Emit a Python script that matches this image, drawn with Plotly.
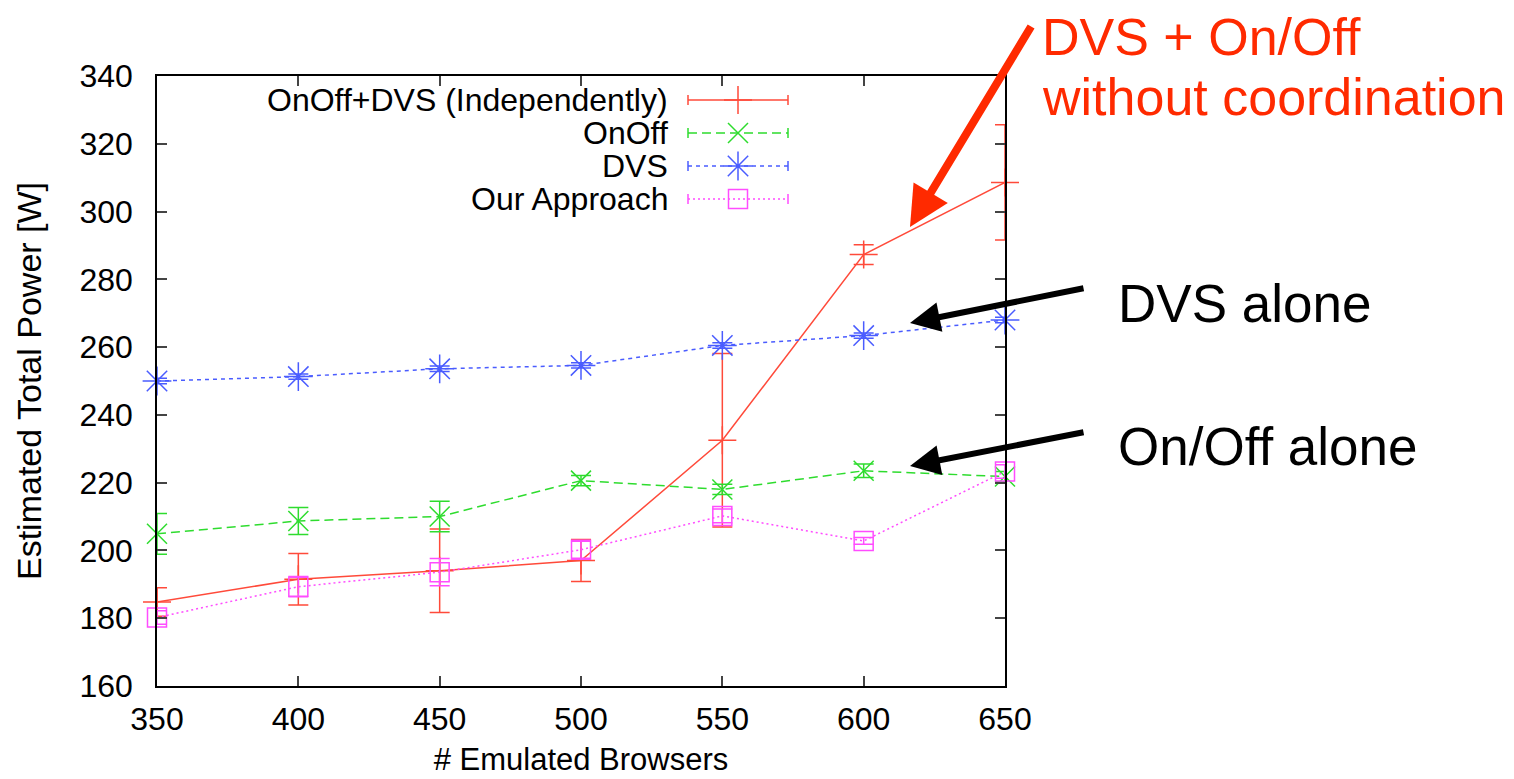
import plotly.graph_objects as go

# ---------------- data ----------------
browsers = [350, 400, 450, 500, 550, 600, 650]

onoff_dvs = [184.8, 191.5, 194.0, 197.0, 232.5, 287.3, 308.6]
onoff_dvs_err = [4.2, 7.6, 12.3, 6.2, 25.6, 2.9, 17.0]

onoff = [204.9, 208.7, 210.0, 220.6, 218.0, 223.5, 221.8]
onoff_err = [6.0, 4.0, 4.5, 1.5, 1.5, 2.0, 1.5]

dvs = [250.0, 251.3, 253.6, 254.6, 260.5, 263.4, 268.0]
dvs_err = [0.8, 0.8, 0.8, 0.8, 0.8, 0.8, 0.8]

ours = [180.2, 189.3, 193.6, 200.2, 210.2, 202.8, 223.3]
ours_err = [2.0, 3.0, 4.0, 2.5, 2.0, 1.0, 2.0]

series_names = ["OnOff+DVS (Independently)", "OnOff", "DVS", "Our Approach"]

y_ticks = [160, 180, 200, 220, 240, 260, 280, 300, 320, 340]
x_ticks = [350, 400, 450, 500, 550, 600, 650]

# ---------------- styles ----------------
FONT = "Liberation Sans, Arial, sans-serif"
RED = "#ff4a3a"
GREEN = "#2edc2e"
BLUE = "#4a5cff"
MAG = "#ff4cff"

styles = [
    dict(color=RED, dash="solid", symbol="cross-thin", size=20),
    dict(color=GREEN, dash="9px,5px", symbol="x-thin", size=20),
    dict(color=BLUE, dash="4px,4px", symbol="asterisk", size=24),
    dict(color=MAG, dash="2px,3px", symbol="square-open", size=19),
]
values = [onoff_dvs, onoff, dvs, ours]
errors = [onoff_dvs_err, onoff_err, dvs_err, ours_err]

fig = go.Figure()

for name, vals, errs, st in zip(series_names, values, errors, styles):
    fig.add_trace(go.Scatter(
        x=browsers, y=vals, name=name, mode="lines+markers",
        line=dict(color=st["color"], width=1.5, dash=st["dash"]),
        marker=dict(symbol=st["symbol"], size=st["size"], color=st["color"],
                    line=dict(color=st["color"], width=1.5)),
        error_y=dict(type="data", array=errs, visible=True,
                     color=st["color"], thickness=1.5, width=10),
        cliponaxis=False,
        showlegend=False,
    ))

# ---------------- geometry (page has an 8px body offset) ----------------
OFF = 8
PL, PT, PW, PH = 157, 76, 848, 610   # plot box in screen pixels
L, T = PL - OFF, PT - OFF
R = 1514 - L - PW
B = 779 - T - PH


def px_x(px):
    return (px - PL) / PW


def px_y(py):
    return (PT + PH - py) / PH


# ---------------- manual legend (text left, sample right) ----------------
legend_rows = [100, 133, 166, 199]
lx0, lx1, lxm = px_x(688), px_x(788), px_x(738)
annotations = []
shapes = []
for name, st, row in zip(series_names, styles, legend_rows):
    yy = px_y(row)
    annotations.append(dict(
        text=name, x=px_x(670), y=yy, xref="paper", yref="paper",
        xanchor="right", yanchor="middle", showarrow=False,
        font=dict(family=FONT, size=32, color="black")))
    shapes.append(dict(type="line", xref="paper", yref="paper",
                       x0=lx0, x1=lx1, y0=yy, y1=yy,
                       line=dict(color=st["color"], width=1.5, dash=st["dash"])))
    for xe in (lx0, lx1):
        shapes.append(dict(type="line", xref="paper", yref="paper",
                           x0=xe, x1=xe, y0=yy - 5 / PH, y1=yy + 5 / PH,
                           line=dict(color=st["color"], width=1.5)))
    fig.add_trace(go.Scatter(
        x=[lxm], y=[yy], xaxis="x2", yaxis="y2", mode="markers",
        marker=dict(symbol=st["symbol"], size=st["size"], color=st["color"],
                    line=dict(color=st["color"], width=1.5)),
        cliponaxis=False, showlegend=False, hoverinfo="skip"))

# ---------------- callouts ----------------
ANN_RED = "#ff2a00"
annotations += [
    dict(text="DVS + On/Off", x=px_x(1040), y=px_y(37), xref="paper", yref="paper",
         xanchor="left", yanchor="middle", showarrow=False,
         font=dict(family=FONT, size=52, color=ANN_RED)),
    dict(text="without coordination", x=px_x(1040), y=px_y(97), xref="paper", yref="paper",
         xanchor="left", yanchor="middle", showarrow=False,
         font=dict(family=FONT, size=52, color=ANN_RED)),
    dict(text="DVS alone", x=px_x(1116), y=px_y(303), xref="paper", yref="paper",
         xanchor="left", yanchor="middle", showarrow=False,
         font=dict(family=FONT, size=53, color="black")),
    dict(text="On/Off alone", x=px_x(1116), y=px_y(446), xref="paper", yref="paper",
         xanchor="left", yanchor="middle", showarrow=False,
         font=dict(family=FONT, size=53, color="black")),
    dict(text="", x=px_x(910), y=px_y(227), xref="paper", yref="paper",
         ax=122, ay=-202, showarrow=True, arrowhead=2, arrowsize=1,
         arrowwidth=8, arrowcolor=ANN_RED),
    dict(text="", x=px_x(910), y=px_y(323), xref="paper", yref="paper",
         ax=175, ay=-35, showarrow=True, arrowhead=2, arrowsize=1,
         arrowwidth=6, arrowcolor="black"),
    dict(text="", x=px_x(910), y=px_y(466), xref="paper", yref="paper",
         ax=175, ay=-34, showarrow=True, arrowhead=2, arrowsize=1,
         arrowwidth=6, arrowcolor="black"),
]

fig.update_layout(
    width=1514, height=779,
    margin=dict(l=L, r=R, t=T, b=B, pad=0, autoexpand=False),
    paper_bgcolor="white", plot_bgcolor="white",
    font=dict(family=FONT, color="black"),
    showlegend=False,
    annotations=annotations,
    shapes=shapes,
    xaxis=dict(
        range=[350, 650], tickvals=x_ticks, ticks="inside", ticklen=10,
        tickcolor="#444", tickwidth=1.5, showline=True, linecolor="black",
        linewidth=1.5, mirror="ticks", showgrid=False, zeroline=False,
        tickfont=dict(size=32), ticklabelstandoff=4, automargin=False,
        title=dict(text="# Emulated Browsers", font=dict(size=31), standoff=12),
    ),
    yaxis=dict(
        range=[160, 340], tickvals=y_ticks, ticks="inside", ticklen=10,
        tickcolor="#444", tickwidth=1.5, showline=True, linecolor="black",
        linewidth=1.5, mirror="ticks", showgrid=False, zeroline=False,
        tickfont=dict(size=32), ticklabelstandoff=16, automargin=False,
        title=dict(text="Estimated Total Power [W]", font=dict(size=34), standoff=28),
    ),
    xaxis2=dict(overlaying="x", range=[0, 1], visible=False, fixedrange=True),
    yaxis2=dict(overlaying="y", range=[0, 1], visible=False, fixedrange=True),
)

fig.write_html("out.html")
